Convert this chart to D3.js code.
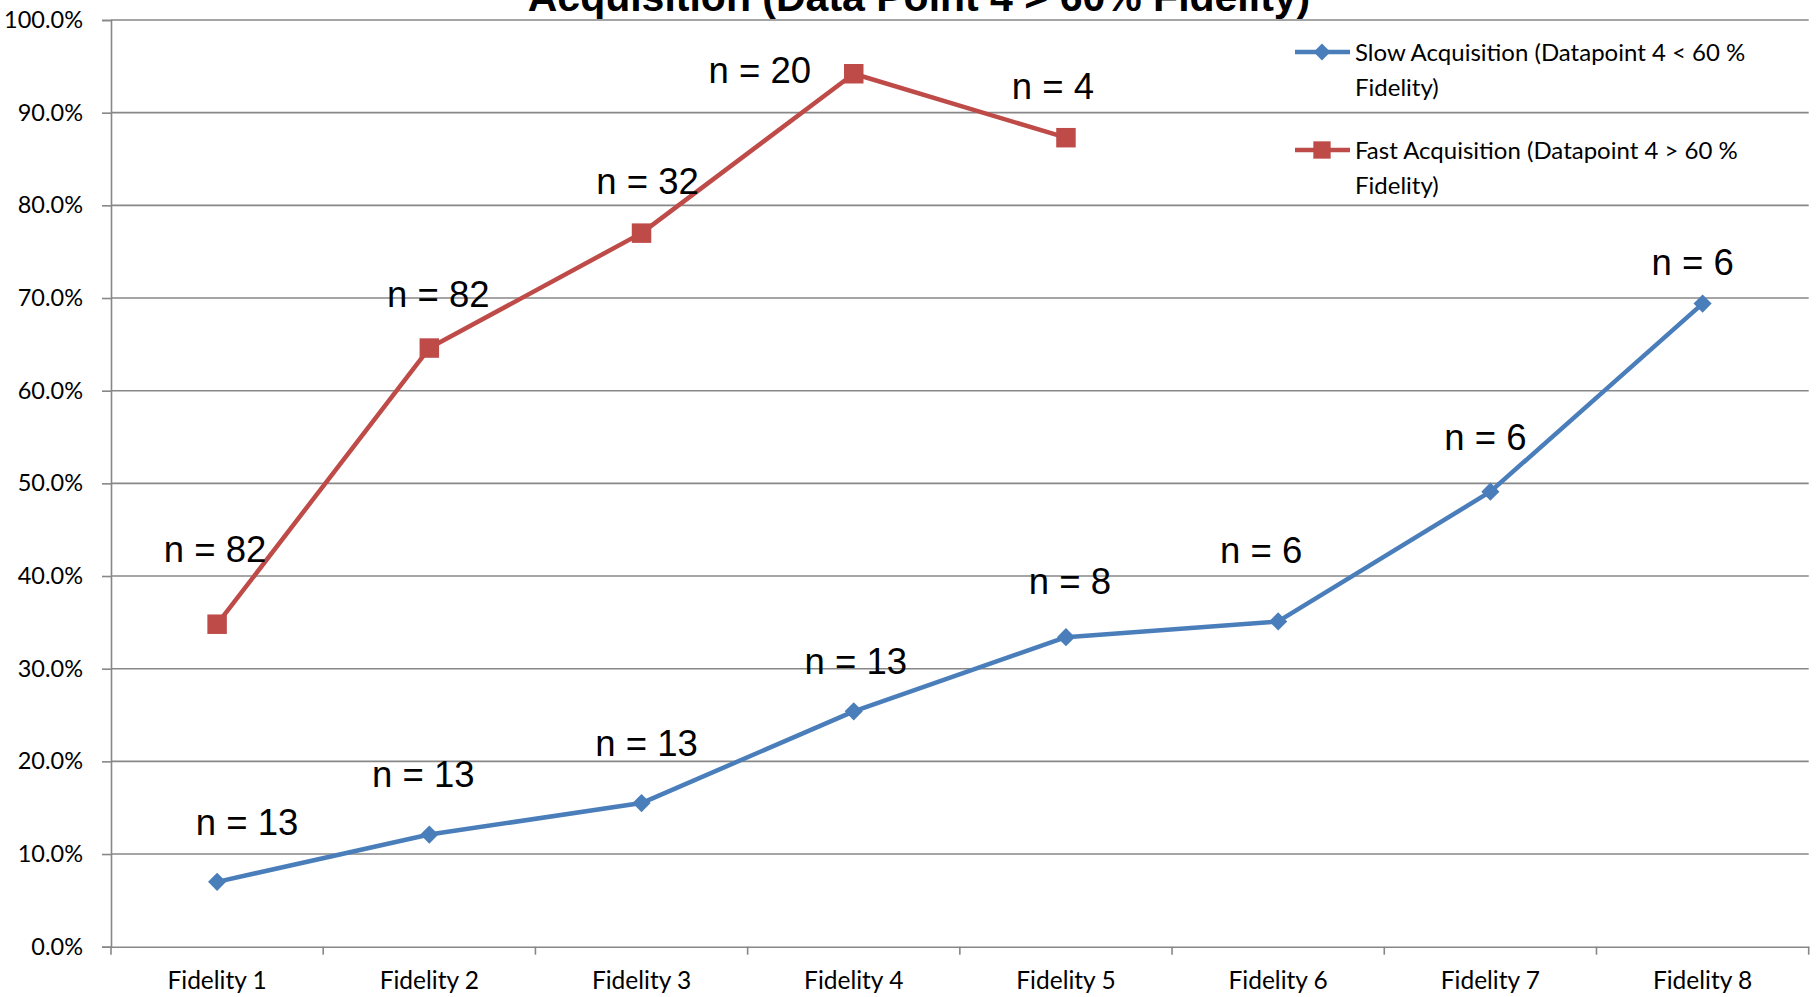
<!DOCTYPE html>
<html>
<head>
<meta charset="utf-8">
<script src="https://cdn.jsdelivr.net/npm/d3@7"></script>
<style>
  html, body { margin: 0; padding: 0; background: #fff; }
  svg { display: block; }
</style>
</head>
<body>
<svg id="chart" width="1818" height="997"></svg>
<script>
// ---- data ----
const categories = ["Fidelity 1", "Fidelity 2", "Fidelity 3", "Fidelity 4", "Fidelity 5", "Fidelity 6", "Fidelity 7", "Fidelity 8"];
const slowValues = [0.070, 0.121, 0.155, 0.254, 0.334, 0.351, 0.491, 0.694];
const fastValues = [0.348, 0.646, 0.770, 0.942, 0.873];
const slowLabels = ["n = 13", "n = 13", "n = 13", "n = 13", "n = 8", "n = 6", "n = 6", "n = 6"];
const fastLabels = ["n = 82", "n = 82", "n = 32", "n = 20", "n = 4"];
const yTicks = [0, 0.1, 0.2, 0.3, 0.4, 0.5, 0.6, 0.7, 0.8, 0.9, 1.0];
const seriesNames = ["Slow Acquisition (Datapoint 4 < 60 %|Fidelity)", "Fast Acquisition (Datapoint 4 > 60 %|Fidelity)"];
const titleText = "Acquisition (Data Point 4 > 60% Fidelity)";

// ---- layout (label nudges in pixels, relative to each point) ----
const slowLabelOffsets = [[30, -47], [-6, -48], [5, -47], [2, -37], [4, -43], [-17, -58], [-5, -42], [-10, -29]];
const fastLabelOffsets = [[-2, -62], [9, -41], [6, -39], [-94, 9], [-13, -39]];

const W = 1818, H = 997;
const margin = { top: 20, right: 9.3, bottom: 50.3, left: 111 };
const iw = W - margin.left - margin.right;
const ih = H - margin.top - margin.bottom;

const blue = "#4A7EBB", red = "#BE4B48", grid = "#878787";
const tickFont = "Lato, 'Open Sans', sans-serif";
const labelFont = "'Liberation Sans', Arial, sans-serif";

const svg = d3.select("#chart");
const g = svg.append("g").attr("transform", `translate(${margin.left},${margin.top})`);

const x = d3.scaleBand().domain(categories).range([0, iw]).padding(0);
const y = d3.scaleLinear().domain([0, 1]).range([ih, 0]);
const cx = c => x(c) + x.bandwidth() / 2;

// gridlines
g.append("g").selectAll("line").data(yTicks.filter(d => d > 0)).join("line")
  .attr("x1", 0).attr("x2", iw)
  .attr("y1", d => y(d)).attr("y2", d => y(d))
  .attr("stroke", grid).attr("stroke-width", 1.6);

// y axis
const yAxis = g.append("g")
  .call(d3.axisLeft(y).tickValues(yTicks).tickFormat(d3.format(".1%")).tickSize(9).tickPadding(19));
yAxis.select(".domain").attr("stroke", grid).attr("stroke-width", 1.6);
yAxis.selectAll(".tick line").attr("stroke", grid).attr("stroke-width", 1.6);
yAxis.selectAll(".tick text").attr("font-family", tickFont).attr("font-size", 23.5).attr("fill", "#000");

// x axis
const xAxis = g.append("g").attr("transform", `translate(0,${ih})`)
  .call(d3.axisBottom(x).tickSize(0).tickPadding(0));
xAxis.select(".domain").attr("stroke", grid).attr("stroke-width", 1.6);
xAxis.selectAll(".tick text").attr("font-family", tickFont).attr("font-size", 24.5).attr("fill", "#000")
  .attr("y", 42).attr("dy", 0);
// boundary ticks
const bounds = categories.map(c => x(c)).concat([iw]);
xAxis.append("g").selectAll("line").data(bounds).join("line")
  .attr("x1", d => d).attr("x2", d => d).attr("y1", 0).attr("y2", 8)
  .attr("stroke", grid).attr("stroke-width", 1.6);

// lines
const line = d3.line().x(d => cx(d.c)).y(d => y(d.v));
const slowData = slowValues.map((v, i) => ({ c: categories[i], v, label: slowLabels[i], off: slowLabelOffsets[i] }));
const fastData = fastValues.map((v, i) => ({ c: categories[i], v, label: fastLabels[i], off: fastLabelOffsets[i] }));

g.append("path").datum(slowData).attr("d", line).attr("fill", "none")
  .attr("stroke", blue).attr("stroke-width", 4.5).attr("stroke-linejoin", "round");
g.append("path").datum(fastData).attr("d", line).attr("fill", "none")
  .attr("stroke", red).attr("stroke-width", 4.5).attr("stroke-linejoin", "round");

const diamond = d3.symbol().type(d3.symbolDiamond2).size(210);
const square = d3.symbol().type(d3.symbolSquare).size(380);

g.append("g").selectAll("path").data(slowData).join("path")
  .attr("d", diamond)
  .attr("transform", d => `translate(${cx(d.c)},${y(d.v)})`)
  .attr("fill", blue);
g.append("g").selectAll("path").data(fastData).join("path")
  .attr("d", square)
  .attr("transform", d => `translate(${cx(d.c)},${y(d.v)})`)
  .attr("fill", red);

// n labels
g.append("g").selectAll("text").data(slowData.concat(fastData)).join("text")
  .attr("x", d => cx(d.c) + d.off[0])
  .attr("y", d => y(d.v) + d.off[1])
  .attr("text-anchor", "middle")
  .attr("font-family", labelFont).attr("font-size", 36.5).attr("fill", "#000")
  .text(d => d.label);

// title (partially cut off at the top, as in the original)
svg.append("text")
  .attr("x", 919).attr("y", 11)
  .attr("text-anchor", "middle")
  .attr("font-family", labelFont).attr("font-weight", "bold").attr("font-size", 41)
  .attr("fill", "#000")
  .text(titleText);

// legend
const legend = svg.append("g");
const legendItems = [
  { name: seriesNames[0], color: blue, sym: d3.symbol().type(d3.symbolDiamond2).size(180), y: 52 },
  { name: seriesNames[1], color: red, sym: d3.symbol().type(d3.symbolSquare).size(300), y: 150 }
];
legendItems.forEach(it => {
  legend.append("line").attr("x1", 1295).attr("x2", 1350).attr("y1", it.y).attr("y2", it.y)
    .attr("stroke", it.color).attr("stroke-width", 4.5);
  legend.append("path").attr("d", it.sym).attr("fill", it.color)
    .attr("transform", `translate(1322,${it.y})`);
  const parts = it.name.split("|");
  const t = legend.append("text").attr("font-family", tickFont).attr("font-size", 24).attr("fill", "#000");
  parts.forEach((p, i) => {
    t.append("tspan").attr("x", 1355).attr("y", it.y + 9 + i * 34.5).text(p);
  });
});
</script>
</body>
</html>
